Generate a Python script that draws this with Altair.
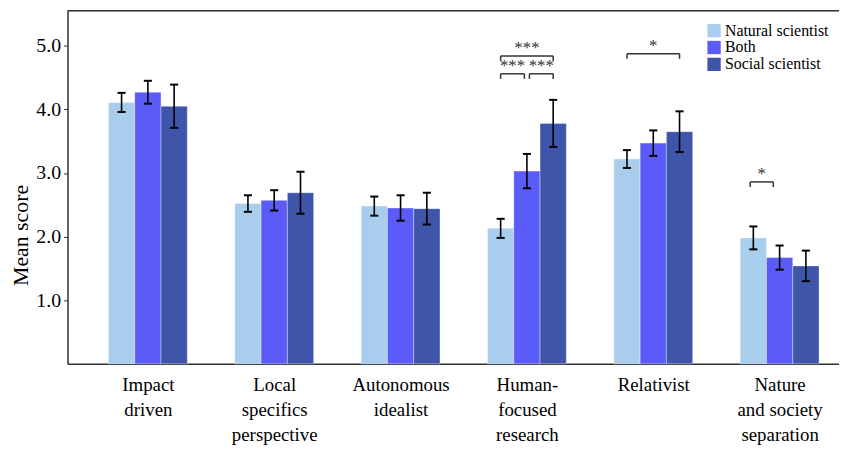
import altair as alt
import pandas as pd

# ---- data ----
categories = ["Impact|driven", "Local|specifics|perspective", "Autonomous|idealist",
              "Human-|focused|research", "Relativist", "Nature|and society|separation"]
groups = ["Natural scientist", "Both", "Social scientist"]
colors = ["#a9cdec", "#5b5bf7", "#3e55aa"]

natural = [4.11, 2.52, 2.48, 2.13, 3.22, 1.98]
both = [4.27, 2.57, 2.45, 3.03, 3.47, 1.67]
social = [4.05, 2.69, 2.44, 3.78, 3.65, 1.54]

natural_err = [0.15, 0.13, 0.15, 0.15, 0.14, 0.18]
both_err = [0.18, 0.16, 0.20, 0.27, 0.20, 0.19]
social_err = [0.34, 0.33, 0.25, 0.37, 0.32, 0.24]

# significance brackets: (category index, from bar, to bar, level, label)
sig_groups = [3, 3, 3, 4, 5]
sig_from = [0, 0, 1, 0, 0]
sig_to = [2, 1, 2, 2, 1]
sig_level = [4.84, 4.56, 4.56, 4.875, 2.86]
sig_label = ["***", "***", "***", "*", "*"]

FONT = "'Liberation Serif', 'Times New Roman', 'DejaVu Serif', serif"

# ---- build tables ----
BW = 0.208  # bar width in category units
means = [natural, both, social]
errs = [natural_err, both_err, social_err]
rows = []
for gi in range(len(categories)):
    for bj, grp in enumerate(groups):
        c = gi + (bj - 1) * BW
        m = means[bj][gi]
        e = errs[bj][gi]
        rows.append(dict(grp=grp, xc=c, x1=c - BW / 2, x2=c + BW / 2, mean=m,
                         lo=m - e, hi=m + e, c1=c - 0.032, c2=c + 0.032))
df = pd.DataFrame(rows)

brows = []
for g, f, t, lv, lab in zip(sig_groups, sig_from, sig_to, sig_level, sig_label):
    a = g + (f - 1) * BW
    b = g + (t - 1) * BW
    if (t - f) == 1 and g == 3:
        if f == 0:
            b -= 0.02
        else:
            a += 0.02
    if g == 5:
        a -= 0.025
        b -= 0.05
    brows.append(dict(a=a, b=b, y=lv, ylo=lv - 0.08, mid=(a + b) / 2, lab=lab))
bdf = pd.DataFrame(brows)

YMAX = 5.55
xscale = alt.Scale(domain=[-0.636, 5.47], nice=False, zero=False)
yscale = alt.Scale(domain=[0, YMAX], nice=False)

label_arr = "[" + ",".join("'" + c + "'" for c in categories) + "]"

xaxis = alt.Axis(values=list(range(len(categories))), labelExpr=f"split({label_arr}[datum.value], '|')",
                 ticks=False, domain=True, domainColor="#333", domainWidth=1.5,
                 labelFont=FONT, labelFontSize=19, labelColor="black",
                 labelLineHeight=25, labelPadding=12, labelOverlap=False, labelBound=False,
                 labelFlush=False, grid=False, title=None)
yaxis = alt.Axis(values=[1, 2, 3, 4, 5], format=".1f", tickSize=4, tickColor="#333",
                 domainColor="#333", domainWidth=1.5, labelFont=FONT,
                 labelFontSize=20, labelColor="black", labelPadding=3, grid=False,
                 title="Mean score", titleFont=FONT, titleFontSize=22,
                 titleFontWeight="normal", titleColor="black", titlePadding=3,
                 titleY=226)

base = alt.Chart(df)

bars = base.mark_bar(stroke="white", strokeWidth=0.6, strokeOpacity=0.6).encode(
    x=alt.X("x1:Q", scale=xscale, axis=xaxis),
    x2="x2:Q",
    y=alt.Y("mean:Q", scale=yscale, axis=yaxis),
    y2=alt.datum(0),
    color=alt.Color("grp:N", scale=alt.Scale(domain=groups, range=colors),
                    legend=alt.Legend(title=None, orient="none", legendX=644, legendY=12,
                                      symbolType="square", symbolSize=180, symbolStrokeWidth=0,
                                      labelFont=FONT, labelFontSize=16,
                                      labelColor="black", rowPadding=1, labelOffset=3)),
)

err = base.mark_rule(color="black", strokeWidth=1.6).encode(
    x="xc:Q", y="lo:Q", y2="hi:Q")
cap_hi = base.mark_rule(color="black", strokeWidth=2).encode(
    x="c1:Q", x2="c2:Q", y="hi:Q")
cap_lo = base.mark_rule(color="black", strokeWidth=2).encode(
    x="c1:Q", x2="c2:Q", y="lo:Q")

bb = alt.Chart(bdf)
br_h = bb.mark_rule(color="#333", strokeWidth=1.5).encode(x="a:Q", x2="b:Q", y="y:Q")
br_l = bb.mark_rule(color="#333", strokeWidth=1.5).encode(x="a:Q", y="ylo:Q", y2="y:Q")
br_r = bb.mark_rule(color="#333", strokeWidth=1.5).encode(x="b:Q", y="ylo:Q", y2="y:Q")
stars = bb.mark_text(font=FONT, fontSize=17, color="#333", baseline="bottom", dy=1).encode(
    x="mid:Q", y="y:Q", text="lab:N")

top = alt.Chart(pd.DataFrame({"t": [YMAX]})).mark_rule(color="#333", strokeWidth=1.5).encode(
    y=alt.Y("t:Q", scale=yscale))

chart = alt.layer(bars, err, cap_hi, cap_lo, br_h, br_l, br_r, stars, top).properties(
    width=778, height=356,
    autosize=alt.AutoSizeParams(type="none"),
    padding={"left": 60, "top": 1, "right": 0, "bottom": 80},
).configure_view(stroke=None).configure(background="white")

chart.save("out.html", embed_options={"renderer": "svg", "actions": False})
